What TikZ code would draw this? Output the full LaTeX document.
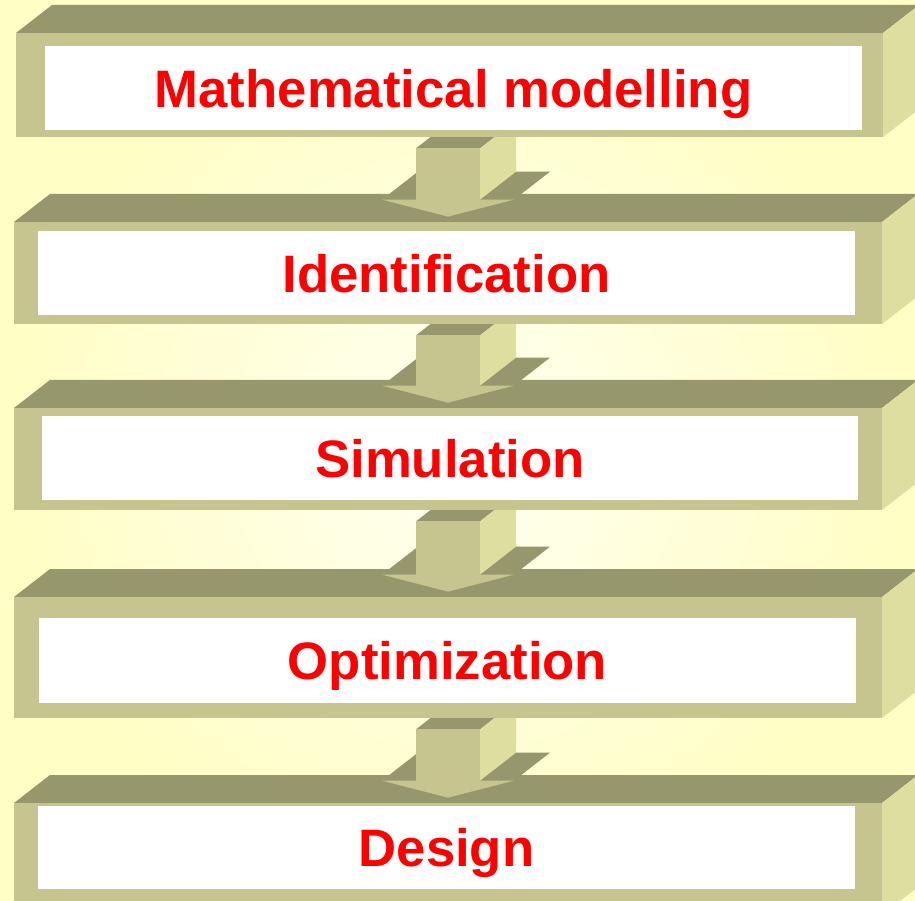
\documentclass[tikz,border=0pt]{standalone}
\usepackage{fontspec}
\newfontfamily\stagefont{Liberation Sans}
\usetikzlibrary{calc,positioning}
\definecolor{bgin}{RGB}{255,255,242}
\definecolor{bgout}{RGB}{255,254,196}
\definecolor{boxtop}{RGB}{151,151,109}
\definecolor{boxfront}{RGB}{198,197,144}
\definecolor{boxside}{RGB}{222,222,158}

\pgfdeclarelayer{back}
\pgfdeclarelayer{mid}
\pgfsetlayers{back,mid,main}

% 3d arrow from one box down to the next
\newcommand{\flowarrow}[2]{%
  \coordinate (h) at ($(#2-box.north)+(0,-22)$);
  \coordinate (s) at ($(h |- #1-box.south)+(0,11)$);
  \begin{pgfonlayer}{mid}
    \fill[topface] ([shift={(-66,0)}]h) -- ([shift={(-30,-28)}]h) -- ([shift={(102,-28)}]h) -- ([shift={(66,0)}]h) -- cycle;
    \fill[topface] ([shift={(-32,0)}]s) -- ([shift={(4,-28)}]s) -- ([shift={(68,-28)}]s) -- ([shift={(32,0)}]s) -- cycle;
    \fill[sideface] ([shift={(32,0)}]s) -- ([shift={(68,-28)}]s) -- ([shift={(68,-28)}]h) -- ([shift={(32,0)}]h) -- cycle;
    \fill[frontface] ([shift={(-32,0)}]s) rectangle ([shift={(32,0)}]h);
    \fill[frontface] ([shift={(-66,0)}]h) -- ([shift={(66,0)}]h) -- ([shift={(0,17)}]h) -- cycle;
  \end{pgfonlayer}
}

\begin{document}
\begin{tikzpicture}[x=0.02cm,y=-0.02cm]
  \tikzset{
    topface/.style={fill=boxtop},
    sideface/.style={fill=boxside},
    frontface/.style={fill=boxfront},
    facebox/.style={fill=boxfront, inner sep=0pt},
    stage/.style={fill=white, inner sep=0pt, text=red, text depth=0pt,
                  font=\stagefont\bfseries\fontsize{30}{32}\selectfont}
  }
  \useasboundingbox (0,0) rectangle (915,901);

  \begin{pgfonlayer}{back}
    \shade[inner color=bgin, outer color=bgout] (0,0) rectangle (915,901);
  \end{pgfonlayer}

  % name/front left/front top/front right/front bottom/white l/t/r/b/text
  \foreach \nm/\fl/\ft/\fr/\fb/\wl/\wt/\wr/\wb/\txt in {
      model/16/33/883/137/45/46/862/130/Mathematical modelling,
      ident/14/222/882/324/38/231/855/315/Identification,
      simul/14/408/882/510/42/416/858/500/Simulation,
      optim/14/597/882/718/39/618/856/703/Optimization,
      design/14/803/882/915/38/806/855/889/Design}
  {
    \begin{pgfonlayer}{back}
      \fill[topface] (\fl,\ft) -- (\fl+36,\ft-28) -- (\fr+36,\ft-28) -- (\fr,\ft) -- cycle;
      \fill[sideface] (\fr,\ft) -- (\fr+36,\ft-28) -- (\fr+36,\fb-28) -- (\fr,\fb) -- cycle;
    \end{pgfonlayer}
    \node[facebox, minimum width={(\fr-\fl)*0.02cm}, minimum height={(\fb-\ft)*0.02cm}]
      (\nm-box) at ({(\fl+\fr)/2},{(\ft+\fb)/2}) {};
    \node[stage, minimum width={(\wr-\wl)*0.02cm}, minimum height={(\wb-\wt)*0.02cm}]
      (\nm) at ({(\wl+\wr)/2},{(\wt+\wb)/2}) {\txt};
  }

  \foreach \a/\b in {model/ident, ident/simul, simul/optim, optim/design}
    \flowarrow{\a}{\b};
\end{tikzpicture}
\end{document}
